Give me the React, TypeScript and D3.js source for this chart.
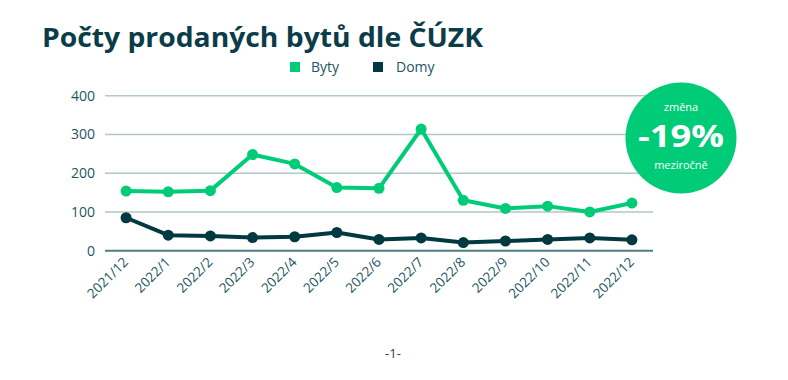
import React from "react";
import * as d3 from "d3";

const categories = ["2021/12","2022/1","2022/2","2022/3","2022/4","2022/5","2022/6","2022/7","2022/8","2022/9","2022/10","2022/11","2022/12"];
const byty = [154,152,155,248,224,163,161,314,130,109,115,100,123];
const domy = [85,40,38,34,36,47,29,33,21,25,29,33,28];
const yTicks = [0,100,200,300,400];

const GREEN = "#00cc78";
const DARK = "#003a40";
const TEXT = "#1d5563";
const FONT = "'Open Sans', 'DejaVu Sans', sans-serif";

export default function App() {
  const W = 788, H = 380;
  const x = d3.scaleBand<string>().domain(categories).range([105, 653]);
  const y = d3.scaleLinear().domain([0, 400]).range([250.7, 95.7]);
  const cx = (c: string) => (x(c) as number) + x.bandwidth() / 2;
  const line = d3.line<number>().x((_, i) => cx(categories[i])).y(d => y(d));

  return (
    <svg width={W} height={H} style={{ position: "absolute", left: 0, top: 0, fontFamily: FONT }}>
      <rect width={W} height={H} fill="#fff" />
      <text x={42} y={47} fontSize={26} fontWeight={700} fill="#0b3c49" textLength={441} lengthAdjust="spacingAndGlyphs">Počty prodaných bytů dle ČÚZK</text>
      <rect x={290} y={62} width={10} height={10} fill={GREEN} />
      <text x={311} y={72} fontSize={14} fill={TEXT}>Byty</text>
      <rect x={373} y={62} width={10} height={10} fill={DARK} />
      <text x={396} y={72} fontSize={14} fill={TEXT}>Domy</text>

      {yTicks.map(t => (
        <g key={t}>
          <line x1={105} x2={653} y1={y(t)} y2={y(t)} stroke={t === 0 ? "#4f7d80" : "#b3c6ca"} strokeWidth={t === 0 ? 2 : 1.5} />
          <text x={95} y={y(t) + 5} textAnchor="end" fontSize={14} fill={TEXT}>{t}</text>
        </g>
      ))}

      {categories.map(c => (
        <text key={c} transform={`translate(${cx(c) + 3},${263}) rotate(-45)`} textAnchor="end" fontSize={13.5} fill={TEXT}>{c}</text>
      ))}

      <path d={line(domy) || ""} fill="none" stroke={DARK} strokeWidth={4} strokeLinejoin="round" />
      {domy.map((v, i) => <circle key={"d" + i} cx={cx(categories[i])} cy={y(v)} r={5.5} fill={DARK} />)}
      <path d={line(byty) || ""} fill="none" stroke={GREEN} strokeWidth={4} strokeLinejoin="round" />
      {byty.map((v, i) => <circle key={"b" + i} cx={cx(categories[i])} cy={y(v)} r={5.5} fill={GREEN} />)}

      <circle cx={681} cy={138} r={55.5} fill={GREEN} />
      <text x={681} y={111} textAnchor="middle" fontSize={11} fill="#fff">změna</text>
      <text x={681} y={147} textAnchor="middle" fontSize={30} fontWeight={700} fill="#fff" textLength={86} lengthAdjust="spacingAndGlyphs">-19%</text>
      <text x={681} y={169} textAnchor="middle" fontSize={11} fill="#fff">meziročně</text>

      <text x={393} y={358} textAnchor="middle" fontSize={13} fill="#2a3b5a">-1-</text>
    </svg>
  );
}
